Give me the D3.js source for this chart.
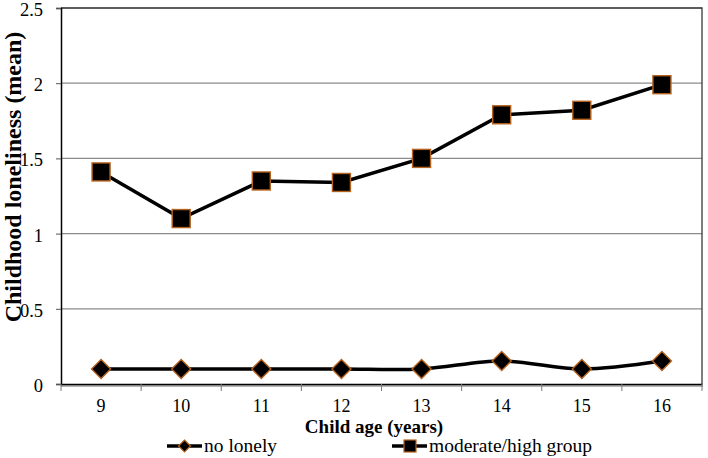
<!DOCTYPE html>
<html><head><meta charset="utf-8">
<script src="https://cdn.jsdelivr.net/npm/d3@7"></script>
<style>body{margin:0;background:#fff}svg{display:block}</style>
</head><body><svg id="c" width="708" height="458"></svg>
<script>
const ages = ["9","10","11","12","13","14","15","16"];
const noLonely = [0.10,0.10,0.10,0.10,0.10,0.153,0.10,0.153];
const modHigh = [1.41,1.10,1.35,1.34,1.50,1.79,1.82,1.99];
const yTicks = [0,0.5,1,1.5,2,2.5];
const seriesNames = ["no lonely","moderate/high group"];

const svg = d3.select("#c");
const L=61,R=702,T=8,B=384;
const x = d3.scaleBand().domain(ages).range([L,R]);
const y = d3.scaleLinear().domain([0,2.5]).range([B,T]);
const mk = "#b5621e";
const FF = '"Liberation Serif"';

// gridlines
svg.append("g").selectAll("line").data(yTicks.filter(d=>d>0)).join("line")
 .attr("x1",L).attr("x2",R).attr("y1",d=>y(d)).attr("y2",d=>y(d))
 .attr("stroke","#8c8c8c").attr("stroke-width",1.2);
// frame top/right
svg.append("path").attr("d",`M${L},${T}H${R}V${B}`).attr("fill","none").attr("stroke","#3a3a3a").attr("stroke-width",1.3);
// bottom axis shadow
svg.append("line").attr("x1",L).attr("x2",R+1).attr("y1",B+2).attr("y2",B+2).attr("stroke","#9a9a9a").attr("stroke-width",1.5);

// y axis
const ya = d3.axisLeft(y).tickValues(yTicks).tickSize(5).tickPadding(13).tickFormat(d=>String(d));
const gy = svg.append("g").attr("transform",`translate(${L},0)`).call(ya);
gy.select(".domain").attr("stroke","#000").attr("stroke-width",1.5);
gy.selectAll(".tick line").attr("stroke","#555");
gy.selectAll("text").style("font-family",FF).style("font-size","18.5px").attr("fill","#000").attr("dy","0.4em");

// x axis
const xa = d3.axisBottom(x).tickSize(0).tickPadding(15);
const gx = svg.append("g").attr("transform",`translate(0,${B})`).call(xa);
gx.select(".domain").attr("stroke","#000").attr("stroke-width",1.5);
gx.selectAll("text").style("font-family",FF).style("font-size","18px").attr("fill","#000");
// boundary ticks
const bounds = ages.map(a=>x(a)).concat([R]);
svg.append("g").selectAll("line").data(bounds).join("line")
 .attr("x1",d=>d).attr("x2",d=>d).attr("y1",B).attr("y2",B+7).attr("stroke","#777").attr("stroke-width",1);

const cx = a=>x(a)+x.bandwidth()/2;
// lines
const lineSmooth = d3.line().x((d,i)=>cx(ages[i])).y(d=>y(d)).curve(d3.curveCatmullRom.alpha(0));
const lineStraight = d3.line().x((d,i)=>cx(ages[i])).y(d=>y(d));
svg.append("path").attr("d",lineSmooth(noLonely)).attr("fill","none").attr("stroke","#000").attr("stroke-width",3.5);
svg.append("path").attr("d",lineStraight(modHigh)).attr("fill","none").attr("stroke","#000").attr("stroke-width",3.5);

// markers
const dia = r=>`M0,${-r}L${r},0L0,${r}L${-r},0Z`;
svg.append("g").selectAll("path").data(noLonely).join("path")
 .attr("transform",(d,i)=>`translate(${cx(ages[i])},${y(d)})`).attr("d",dia(9.5))
 .attr("fill","#000").attr("stroke",mk).attr("stroke-width",1.4);
svg.append("g").selectAll("rect").data(modHigh).join("rect")
 .attr("x",(d,i)=>cx(ages[i])-9).attr("y",d=>y(d)-9).attr("width",18).attr("height",18)
 .attr("fill","#000").attr("stroke",mk).attr("stroke-width",1.4);

// axis titles
svg.append("text").attr("transform","translate(21,177) rotate(-90)").attr("text-anchor","middle")
 .style("font-family",FF).style("font-size","24px").style("font-weight","bold").text("Childhood loneliness (mean)");
svg.append("text").attr("x",374).attr("y",433).attr("text-anchor","middle")
 .style("font-family",FF).style("font-size","19px").style("font-weight","bold").text("Child age (years)");

// legend
const leg = [{x:167,name:seriesNames[0],m:"d"},{x:392,name:seriesNames[1],m:"s"}];
const ly = 446;
leg.forEach(l=>{
  svg.append("line").attr("x1",l.x).attr("x2",l.x+35).attr("y1",ly).attr("y2",ly).attr("stroke","#000").attr("stroke-width",3.5);
  if(l.m==="d") svg.append("path").attr("transform",`translate(${l.x+17.5},${ly})`).attr("d",dia(6)).attr("fill","#000").attr("stroke",mk).attr("stroke-width",1.2);
  else svg.append("rect").attr("x",l.x+12).attr("y",ly-6).attr("width",12).attr("height",12).attr("fill","#000").attr("stroke",mk).attr("stroke-width",1.2);
  svg.append("text").attr("x",l.x+37).attr("y",452).style("font-family",FF).style("font-size","19.5px").text(l.name);
});
</script></body></html>
